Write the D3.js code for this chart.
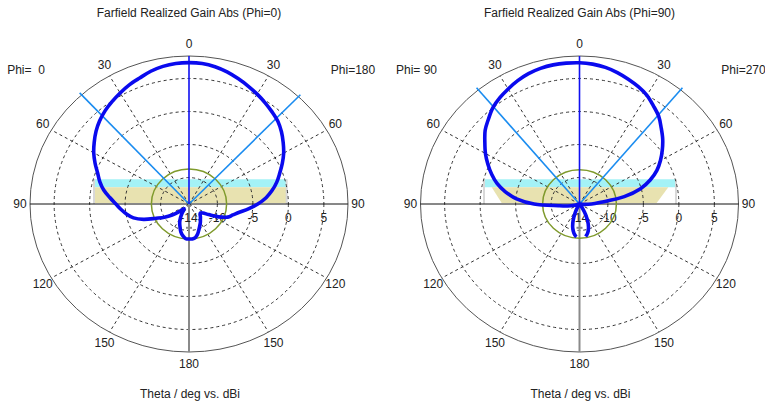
<!DOCTYPE html>
<html>
<head>
<meta charset="utf-8">
<script src="https://cdn.jsdelivr.net/npm/d3@7"></script>
<style>
  body { margin: 0; background: #fff; }
  svg { display: block; }
  text { font-family: "Liberation Sans", Arial, sans-serif; font-size: 12px; fill: #222; white-space: pre; }
</style>
</head>
<body>
<svg id="chart" width="765" height="406"></svg>
<script>
// Theta sample angles (deg), display angle: negative = left half, positive = right half
const thetaDeg = d3.range(-180, 180, 5);

// Realized gain (dBi) for the Phi=0 / Phi=180 cut
const gainPhi0 = [
  -8.7, -8.75, -9.1, -9.6, -10.3, -10.9, -11.6, -12.3, -12.9, -13.0, -12.2, -11.1,
  -10.0, -8.9, -7.2, -5.9, -5.1, -4.4, -3.7, -2.8, -1.8, -1.0, -0.3, 0.6,
  1.5, 2.3, 3.1, 3.8, 4.4, 4.9, 5.4, 5.9, 6.3, 6.8, 7.15, 7.35,
  7.4, 7.35, 7.1, 6.7, 6.2, 5.7, 5.2, 4.7, 4.2, 3.7, 3.0, 2.2,
  1.4, 0.5, -0.4, -1.2, -2.1, -3.1, -4.3, -5.6, -6.8, -7.6, -8.2, -9.4,
  -10.8, -11.6, -11.9, -11.8, -11.5, -11.2, -10.8, -10.4, -9.9, -9.3, -8.85, -8.7
];

// Realized gain (dBi) for the Phi=90 / Phi=270 cut
const gainPhi90 = [
  -8.8, -9.0, -9.5, -10.3, -11.4, -12.6, -13.5, -14, -14, -14, -14, -14,
  -14, -14, -14, -13.3, -12.3, -11.0, -7.6, -5.1, -3.4, -1.97, -0.83, 0.24,
  1.3, 2.28, 3.35, 4.15, 5.0, 5.6, 6.1, 6.6, 7.0, 7.25, 7.38,
  7.4, 7.38, 7.25, 7.0, 6.6, 6.1, 5.6, 5.0, 4.15, 3.35, 2.28, 1.3,
  0.24, -0.83, -1.97, -3.4, -5.1, -7.6, -11.0, -12.3, -13.3, -14, -14, -14,
  -14, -14, -14, -14, -14, -14, -13.5, -12.6, -11.4, -10.3, -9.5, -9.0
];

// Radial axis (dB)
const gainMin = -14;
const gainMax = 8.4;
const gridGains = [-10, -5, 0, 5];
const radialLabels = [-14, -10, -5, 0, 5];

// Angular grid
const spokeAngles = [-150, -120, -60, -30, 30, 60, 120, 150];
const angleLabels = [
  { a: 0, t: "0" }, { a: -30, t: "30" }, { a: 30, t: "30" },
  { a: -60, t: "60" }, { a: 60, t: "60" }, { a: -90, t: "90" }, { a: 90, t: "90" },
  { a: -120, t: "120" }, { a: 120, t: "120" }, { a: -150, t: "150" }, { a: 150, t: "150" },
  { a: 180, t: "180" }
];

// Markers: main lobe direction, 3 dB beam edges, side lobe level
const mainLobeDir = [0, 0];
const beamEdges = [[-42.5, 43.5], [-39.5, 39.5]];
const sideLobeLevel = [-8.7, -8.8];

// Shaded bands in radial units (x, y) relative to the plot centre
const bandCyan = [
  [[-13.38, 3.74], [13.76, 3.74], [13.76, 2.53], [-13.38, 2.53]],
  [[-13.45, 3.74], [13.59, 3.74], [13.59, 2.53], [-13.45, 2.53]]
];
const bandTan = [
  [[-13.38, 2.53], [13.76, 2.53], [13.76, 0.15], [-13.38, 0.15]],
  [[-12.37, 2.53], [12.51, 2.53], [10.87, 0.15], [-10.96, 0.15]]
];
const bandEdges = [[-13.38, 13.76], [-13.45, 13.59]];

const titles = ["Farfield Realized Gain Abs (Phi=0)", "Farfield Realized Gain Abs (Phi=90)"];
const leftCut = ["Phi=  0", "Phi= 90"];
const rightCut = ["Phi=180", "Phi=270"];
const gainSeries = [gainPhi0, gainPhi90];

const svg = d3.select("#chart");
const centers = [189, 579.5];
const cy = 204;
const rx = 159, ry = 148;
const span = gainMax - gainMin;
const rad = d => d * Math.PI / 180;

centers.forEach((cx, i) => {
  const g = svg.append("g");
  const x = d3.scaleLinear().domain([-span, span]).range([cx - rx, cx + rx]);
  const y = d3.scaleLinear().domain([-span, span]).range([cy + ry, cy - ry]);
  const rr = v => Math.max(0, v - gainMin);
  const pt = (a, v) => [x(rr(v) * Math.sin(rad(a))), y(rr(v) * Math.cos(rad(a)))];
  const ell = (v) => ({ rx: x(rr(v)) - x(0), ry: y(0) - y(rr(v)) });

  // bands
  const poly = d3.line().x(d => x(d[0])).y(d => y(d[1]));
  g.append("path").attr("d", poly(bandCyan[i]) + "Z").attr("fill", "#a4f2f6");
  g.append("path").attr("d", poly(bandTan[i]) + "Z").attr("fill", "#e8e2b0");
  bandEdges[i].forEach(u => {
    g.append("line").attr("x1", x(u)).attr("x2", x(u)).attr("y1", y(3.74)).attr("y2", y(0))
      .attr("stroke", "#d8d8d8").attr("stroke-width", 2);
  });

  // dashed grid circles
  gridGains.forEach(v => {
    const e = ell(v);
    g.append("ellipse").attr("cx", cx).attr("cy", cy).attr("rx", e.rx).attr("ry", e.ry)
      .attr("fill", "none").attr("stroke", "#333").attr("stroke-width", 1).attr("stroke-dasharray", "3,3");
  });
  // spokes
  spokeAngles.forEach(a => {
    const p = pt(a, gainMax);
    g.append("line").attr("x1", cx).attr("y1", cy).attr("x2", p[0]).attr("y2", p[1])
      .attr("stroke", "#333").attr("stroke-width", 1).attr("stroke-dasharray", "3,3");
  });
  // outer boundary
  g.append("ellipse").attr("cx", cx).attr("cy", cy).attr("rx", rx).attr("ry", ry)
    .attr("fill", "none").attr("stroke", "#555").attr("stroke-width", 1);
  // horizontal axis
  g.append("line").attr("x1", x(-span)).attr("x2", x(span)).attr("y1", cy).attr("y2", cy)
    .attr("stroke", "#111").attr("stroke-width", 1);
  // lower vertical axis
  g.append("line").attr("x1", cx).attr("x2", cx).attr("y1", cy).attr("y2", y(-span))
    .attr("stroke", "#8a8a8a").attr("stroke-width", 2);
  g.append("line").attr("x1", cx - 3).attr("x2", cx + 3).attr("y1", y(-3.6)).attr("y2", y(-3.6))
    .attr("stroke", "#8a8a8a").attr("stroke-width", 2);

  // radial labels
  radialLabels.forEach(v => {
    g.append("text").attr("x", x(rr(v))).attr("y", cy + 17.5).attr("text-anchor", "middle").text(v);
  });
  // angle labels
  angleLabels.forEach(d => {
    const px = cx + (rx + 10) * Math.sin(rad(d.a));
    const py = cy - (ry + 12) * Math.cos(rad(d.a));
    g.append("text").attr("x", px).attr("y", py).attr("text-anchor", "middle")
      .attr("dominant-baseline", "central").text(d.t);
  });

  // side lobe level circle
  const s = ell(sideLobeLevel[i]);
  g.append("ellipse").attr("cx", cx).attr("cy", cy).attr("rx", s.rx).attr("ry", s.ry)
    .attr("fill", "none").attr("stroke", "#7f9a2c").attr("stroke-width", 1.5);

  // 3 dB beam edges
  beamEdges[i].forEach(a => {
    const p = pt(a, gainMax + 0.4);
    g.append("line").attr("x1", cx).attr("y1", cy).attr("x2", p[0]).attr("y2", p[1])
      .attr("stroke", "#1a8cf0").attr("stroke-width", 1.6);
  });
  // main lobe direction
  const m = pt(mainLobeDir[i], gainMax);
  g.append("line").attr("x1", cx).attr("y1", cy).attr("x2", m[0]).attr("y2", m[1])
    .attr("stroke", "#1010f0").attr("stroke-width", 1.6);

  // pattern curve
  const pts = thetaDeg.map((a, k) => pt(a, gainSeries[i][k]));
  g.append("path").attr("d", d3.line().curve(d3.curveCatmullRomClosed.alpha(0.5))(pts))
    .attr("fill", "none").attr("stroke", "#0a0aee").attr("stroke-width", 3.6)
    .attr("stroke-linejoin", "round");

  // titles and captions
  g.append("text").attr("x", cx).attr("y", 17).attr("text-anchor", "middle").text(titles[i]);
  g.append("text").attr("x", cx - 163).attr("y", 74).attr("text-anchor", "middle").text(leftCut[i]);
  g.append("text").attr("x", cx + 164).attr("y", 74).attr("text-anchor", "middle").text(rightCut[i]);
  g.append("text").attr("x", cx + 1).attr("y", 398).attr("text-anchor", "middle").text("Theta / deg vs. dBi");
});
</script>
</body>
</html>
